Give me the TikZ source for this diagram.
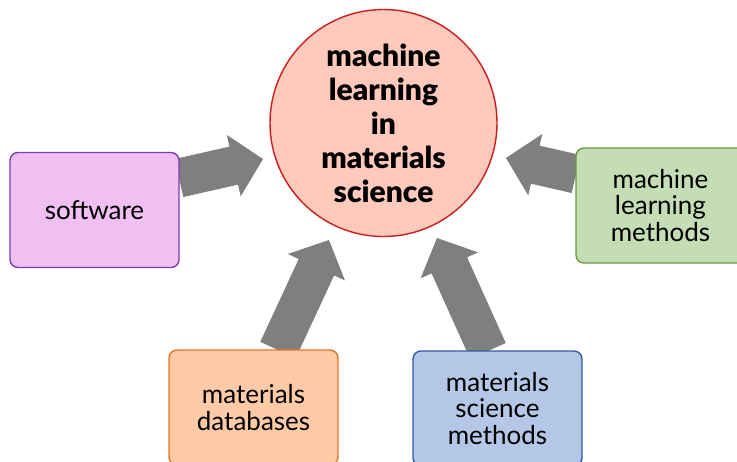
\documentclass[tikz,border=0pt]{standalone}
\usepackage{fontspec}
\setmainfont{Lato}[BoldFont={Lato Black}]
\usetikzlibrary{calc}

\definecolor{arrowgray}{RGB}{127,127,127}
\definecolor{circfill}{RGB}{255,201,188}
\definecolor{circdraw}{RGB}{204,30,30}
\definecolor{swfill}{RGB}{240,192,242}
\definecolor{swdraw}{RGB}{128,60,170}
\definecolor{mlfill}{RGB}{197,221,180}
\definecolor{mldraw}{RGB}{106,154,64}
\definecolor{dbfill}{RGB}{255,203,166}
\definecolor{dbdraw}{RGB}{226,118,40}
\definecolor{smfill}{RGB}{180,199,231}
\definecolor{smdraw}{RGB}{50,90,160}

% block arrow from #1 (tail centre) to #2 (tip)
\newcommand\blockarrow[2]{%
  \path ($(#2)!30pt!(#1)$) coordinate (hb-#1);
  \fill[arrowgray]
    ($(#1)!19.5pt!90:(#2)$) --
    ($(hb-#1)!19.5pt!-90:(#1)$) --
    ($(hb-#1)!31.5pt!-90:(#1)$) --
    (#2) --
    ($(hb-#1)!31.5pt!90:(#1)$) --
    ($(hb-#1)!19.5pt!90:(#1)$) --
    ($(#1)!19.5pt!-90:(#2)$) -- cycle;
}

\tikzset{
  srcbox/.style={rectangle, rounded corners=8pt, line width=1.4pt,
    minimum width=169pt, minimum height=115pt, align=center,
    font=\fontsize{26}{26.5}\selectfont, inner sep=0pt},
  hub/.style={circle, line width=1.4pt, fill=circfill, draw=circdraw,
    minimum size=227pt, align=center, inner sep=0pt,
    font=\fontsize{30}{34}\selectfont\bfseries}
}

\begin{document}
\begin{tikzpicture}[x=1pt,y=-1pt]
  \useasboundingbox (0,0) rectangle (737,461);
  \clip (0,0) rectangle (737,461);

  % arrow end points
  \coordinate (swT) at (179,178);  \coordinate (swH) at (263,159);
  \coordinate (mlT) at (576,174);  \coordinate (mlH) at (506,158);
  \coordinate (dbT) at (278,350);  \coordinate (dbH) at (329,240);
  \coordinate (smT) at (488,351);  \coordinate (smH) at (437,238);

  \blockarrow{swT}{swH}
  \blockarrow{mlT}{mlH}
  \blockarrow{dbT}{dbH}
  \blockarrow{smT}{smH}

  \node[hub] (mlms) at (383.5,123) {machine\\learning\\in\\materials\\science};

  \node[srcbox, fill=swfill, draw=swdraw] (sw) at (94.5,210) {software};
  \node[srcbox, fill=mlfill, draw=mldraw] (ml) at (660.5,205.5) {machine\\learning\\methods};
  \node[srcbox, fill=dbfill, draw=dbdraw] (db) at (253.5,407.5) {materials\\databases};
  \node[srcbox, fill=smfill, draw=smdraw] (sm) at (497.5,408.5) {materials\\science\\methods};
\end{tikzpicture}
\end{document}
